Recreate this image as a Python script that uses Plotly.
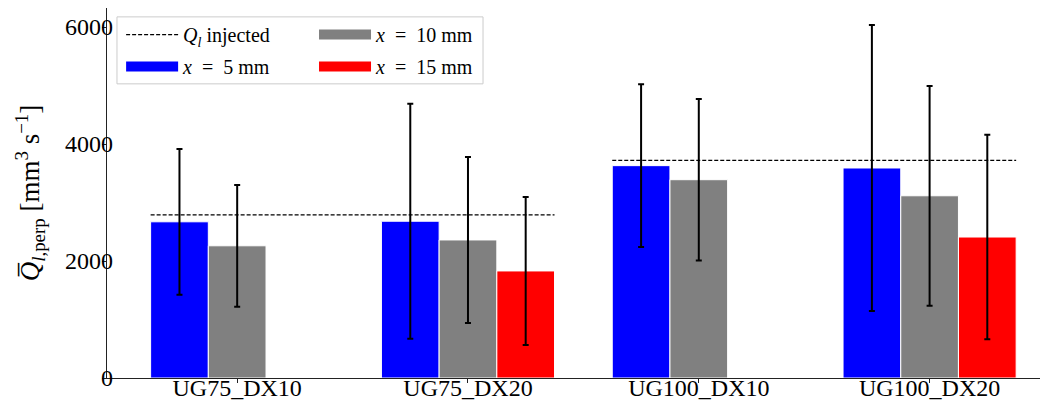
import plotly.graph_objects as go

categories = ["UG75_DX10", "UG75_DX20", "UG100_DX10", "UG100_DX20"]
series_names = ["<i>x</i>\u2002=\u20025 mm", "<i>x</i>\u2002=\u200210 mm", "<i>x</i>\u2002=\u200215 mm"]
series_colors = ["#0000ff", "#808080", "#ff0000"]
q_x5 = [2670, 2680, 3630, 3590]
q_x10 = [2260, 2360, 3390, 3115]
q_x15 = [None, 1830, None, 2410]
err_x5 = [1245, 2010, 1390, 2445]
err_x10 = [1040, 1420, 1380, 1878]
err_x15 = [None, 1265, None, 1747]
q_injected_groups = [[0, 1], [2, 3]]
q_injected = [2790, 3720]
yticks = [0, 2000, 4000, 6000]

values = [q_x5, q_x10, q_x15]
errors = [err_x5, err_x10, err_x15]
bar_w = 0.25
xpos = list(range(len(categories)))
FONT = "Liberation Serif"
XR = [-0.564, 3.513]
YR = [0, 6325]

fig = go.Figure()

for k in range(3):
    fig.add_trace(go.Bar(
        x=xpos, y=values[k], width=bar_w, offset=(k - 1.5) * bar_w,
        marker=dict(color=series_colors[k], line=dict(color="white", width=1)),
        error_y=dict(type="data", array=[e if e is not None else 0 for e in errors[k]],
                     color="black", thickness=2, width=3, visible=True),
        showlegend=False,
    ))

# injected reference lines
lx, ly = [], []
for grp, q in zip(q_injected_groups, q_injected):
    lx += [grp[0] - 1.5 * bar_w, grp[1] + 1.5 * bar_w, None]
    ly += [q, q, None]
fig.add_trace(go.Scatter(x=lx, y=ly, mode="lines",
                         line=dict(color="black", width=1.2, dash="4px,2px"),
                         name="<i>Q<sub>l</sub></i> injected", legend="legend",
                         legendgroup="q"))

# legend-only entries for bars
for k, lg in zip(range(3), ["legend", "legend2", "legend2"]):
    fig.add_trace(go.Scatter(x=[None], y=[None], mode="lines",
                             line=dict(color=series_colors[k], width=13),
                             name=series_names[k], legend=lg, legendgroup="s%d" % k))

# helper trace carrying the label axes
fig.add_trace(go.Scatter(x=[None], y=[None], xaxis="x2", yaxis="y2",
                         showlegend=False, hoverinfo="skip"))

fig.add_shape(type="rect", xref="paper", yref="paper",
              x0=0.0106, x1=0.3996, y0=0.795, y1=0.976,
              line=dict(color="#cccccc", width=1), fillcolor="white", layer="below")

leg_common = dict(yanchor="top", xanchor="left", bgcolor="rgba(0,0,0,0)", borderwidth=0,
                  font=dict(family=FONT, size=20), itemwidth=52, tracegroupgap=3)

fig.update_layout(
    width=1040, height=400,
    margin=dict(l=99, r=0, t=0, b=30),
    plot_bgcolor="white", paper_bgcolor="white",
    font=dict(family=FONT, size=24, color="black"),
    barmode="overlay",
    showlegend=True,
    legend=dict(x=0.015, y=0.981, **leg_common),
    legend2=dict(x=0.22, y=0.981, **leg_common),
    xaxis=dict(range=XR, tickvals=xpos, showticklabels=False,
               showline=True, linecolor="#222", linewidth=1, mirror=True,
               ticks="outside", ticklen=4, tickcolor="#222", automargin=False,
               showgrid=False, zeroline=False),
    yaxis=dict(range=YR, tickvals=yticks, showticklabels=False, automargin=False,
               showline=True, linecolor="#222", linewidth=1,
               ticks="outside", ticklen=4, tickcolor="#222",
               showgrid=False, zeroline=False),
    xaxis2=dict(range=XR, tickvals=xpos, ticktext=categories, overlaying="x",
                anchor="free", position=0.019, ticks="", showline=False,
                showgrid=False, zeroline=False, automargin=False,
                tickfont=dict(size=24)),
    yaxis2=dict(range=YR, tickvals=yticks, overlaying="y",
                anchor="free", position=0.0064, ticks="", showline=False,
                showgrid=False, zeroline=False, automargin=False,
                tickfont=dict(size=24),
                title=dict(text="<i>Q̅</i><sub><i>l</i>,perp</sub> [mm<sup>3</sup> s<sup>−1</sup>]",
                           font=dict(size=27), standoff=16)),
)

fig.write_html("out.html")
